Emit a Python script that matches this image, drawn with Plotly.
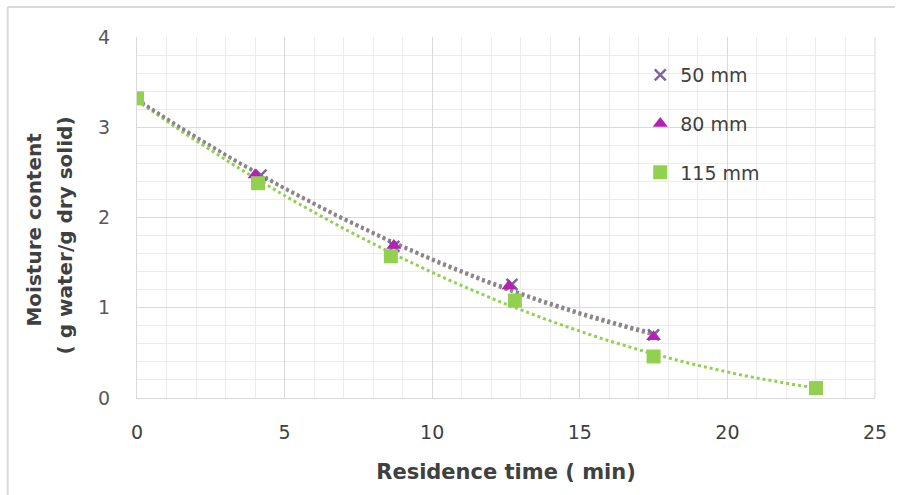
import numpy as np
import plotly.graph_objects as go

# Data
t_50 = [0, 4.2, 8.7, 12.7, 17.5]
m_50 = [3.32, 2.47, 1.68, 1.26, 0.70]
t_80 = [0, 4.0, 8.7, 12.6, 17.5]
m_80 = [3.32, 2.47, 1.69, 1.24, 0.68]
t_115 = [0, 4.1, 8.6, 12.8, 17.5, 23.0]
m_115 = [3.32, 2.38, 1.57, 1.08, 0.46, 0.11]
series_names = ["50 mm", "80 mm", "115 mm"]
x_ticks = [0, 5, 10, 15, 20, 25]
y_ticks = [0, 1, 2, 3, 4]
y_title_lines = ["Moisture content", "( g water/g dry solid)"]

W, H = 899, 495
L, R, T, B = 137, 20, 37, 97
pw, ph = W - L - R, H - T - B


def px_to_paper_x(px):
    return (px - L) / pw


def px_to_paper_y(py):
    return (H - B - py) / ph


def trend(x, y):
    c = np.polyfit(x, y, 2)
    xs = np.linspace(min(x), max(x), 120)
    return xs, np.polyval(c, xs)


fig = go.Figure()

# Trendlines (polynomial, like Excel)
for (x, y, col) in [(t_115, m_115, "#92D050"), (t_80, m_80, "#8E8E7A"), (t_50, m_50, "#8B8294")]:
    xs, ys = trend(x, y)
    fig.add_trace(go.Scatter(x=xs, y=ys, mode="lines", showlegend=False, hoverinfo="skip",
                             line=dict(color=col, width=3, dash="dot")))

fig.add_trace(go.Scatter(x=t_50, y=m_50, mode="markers", name=series_names[0], legendgroup="a",
                         marker=dict(symbol="x-thin", size=11, line=dict(width=2.5, color="#8064A2"),
                                     color="#8064A2")))
fig.add_trace(go.Scatter(x=t_80, y=m_80, mode="markers", name=series_names[1], legendgroup="b",
                         marker=dict(symbol="triangle-up", size=13, color="#B422B4")))
fig.add_trace(go.Scatter(x=t_115, y=m_115, mode="markers", name=series_names[2], legendgroup="c",
                         marker=dict(symbol="square", size=14, color="#92D050")))

font_family = "'DejaVu Sans', sans-serif"

fig.update_layout(
    width=W, height=H,
    margin=dict(l=L, r=R, t=T, b=B),
    paper_bgcolor="white", plot_bgcolor="white",
    font=dict(family=font_family, color="#404040"),
    legend=dict(x=px_to_paper_x(643), y=px_to_paper_y(56), xanchor="left", yanchor="top",
                bgcolor="rgba(0,0,0,0)", font=dict(size=19, color="#404040"),
                tracegroupgap=21, itemwidth=30),
    showlegend=True,
    xaxis=dict(range=[0, 25], tickvals=x_ticks, ticktext=[str(v) for v in x_ticks],
               showgrid=True, gridcolor="#D9D9D9", gridwidth=1,
               minor=dict(dtick=1, showgrid=True, gridcolor="#ECECEC", gridwidth=1),
               zeroline=False, showline=True, linecolor="#D9D9D9", linewidth=1, mirror=False,
               ticks="outside", ticklen=17, tickcolor="rgba(0,0,0,0)",
               tickfont=dict(size=19, color="#404040", family=font_family),
               title=dict(text="<b>Residence time ( min)</b>", font=dict(size=21, color="#404040"),
                          standoff=22)),
    yaxis=dict(range=[0, 4], tickvals=y_ticks, ticktext=[str(v) for v in y_ticks],
               showgrid=True, gridcolor="#D9D9D9", gridwidth=1,
               minor=dict(dtick=0.2, showgrid=True, gridcolor="#ECECEC", gridwidth=1),
               zeroline=False, showline=True, linecolor="#D9D9D9", linewidth=1,
               ticks="outside", ticklen=22, tickcolor="rgba(0,0,0,0)",
               tickfont=dict(size=19, color="#595959", family=font_family)),
    annotations=[
        dict(text="<b>%s</b>" % y_title_lines[0], xref="paper", yref="paper",
             x=px_to_paper_x(33), y=px_to_paper_y(230), textangle=-90, showarrow=False,
             xanchor="center", yanchor="middle", font=dict(size=20, color="#404040")),
        dict(text="<b>%s</b>" % y_title_lines[1], xref="paper", yref="paper",
             x=px_to_paper_x(65), y=px_to_paper_y(235), textangle=-90, showarrow=False,
             xanchor="center", yanchor="middle", font=dict(size=20, color="#404040")),
    ],
    shapes=[
        dict(type="line", xref="paper", yref="paper", x0=px_to_paper_x(7), x1=px_to_paper_x(899),
             y0=px_to_paper_y(7), y1=px_to_paper_y(7), line=dict(color="#D9D9D9", width=2)),
        dict(type="line", xref="paper", yref="paper", x0=px_to_paper_x(7), x1=px_to_paper_x(7),
             y0=px_to_paper_y(7), y1=px_to_paper_y(495), line=dict(color="#D9D9D9", width=2)),
        dict(type="line", xref="paper", yref="paper", x0=1, x1=1, y0=0, y1=1,
             line=dict(color="#D9D9D9", width=1)),
    ],
)

fig.write_html("out.html")
